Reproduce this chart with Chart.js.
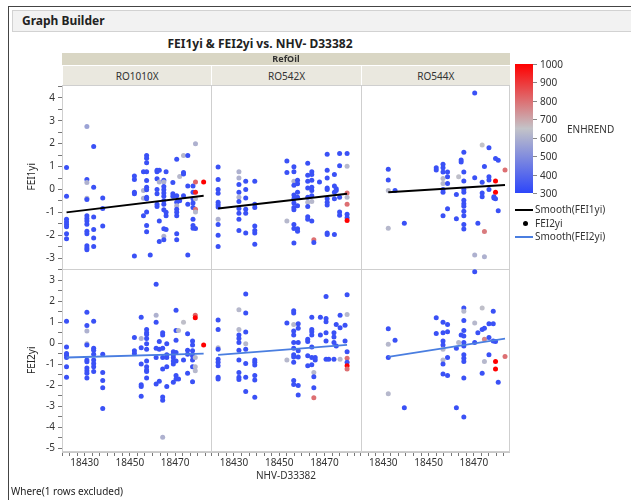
<!DOCTYPE html>
<html>
<head>
<meta charset="utf-8">
<script src="https://cdn.jsdelivr.net/npm/chart.js@4.4.0/dist/chart.umd.min.js"></script>
<style>
  body { margin:0; width:631px; height:500px; overflow:hidden; background:#fff; font-family:"Noto Sans", sans-serif; color:#222; }
  .abs { position:absolute; white-space:nowrap; }
  #frame { left:8px; top:6px; width:640px; height:520px; border-left:1px solid #444; border-top:1px solid #444; }
  #hdr { left:12px; top:10px; width:640px; height:22px; background:#f2f2f2; border:1px solid #d2d2d2; font-weight:bold; font-size:12px; line-height:20px; padding-left:9px; box-sizing:border-box; }
  #title { left:10px; width:500px; top:35px; text-align:center; font-weight:bold; font-size:12px; }
  #where { left:11px; top:484px; font-size:10px; }
  .band { background:#d9d6c4; font-weight:bold; font-size:9px; text-align:center; color:#333; box-sizing:border-box; }
  .strip { background:#eae8df; font-size:10px; text-align:center; color:#333; box-sizing:border-box; border-left:1px solid #fff; border-top:1px solid #fff; }
  .lg { font-size:10px; color:#333; }
</style>
</head>
<body>
<div id="frame" class="abs"></div>
<div id="hdr" class="abs">Graph Builder</div>
<div id="title" class="abs">FEI1yi &amp; FEI2yi vs. NHV- D33382</div>
<canvas id="graf" width="631" height="500" style="position:absolute;left:0;top:0"></canvas>
<div id="where" class="abs">Where(1 rows excluded)</div>
<script>
// DATOS ---------------------------------------------------------------
// each column: [NHV-D33382, [FEIyi values]]; a value may be [y, ENHREND] when not blue
const BLUE = 330;
const refOils = ['RO1010X', 'RO542X', 'RO544X'];

const fei1_RO1010X = [
  [18422, [0.96,-0.3,-1.3,-1.42,-1.53,-1.63,-1.93,-2.15]],
  [18431, [[2.75,560],0.44,[0.3,600],[-0.38,600],-0.44,-1.15,-1.27,-1.38,-1.52,-1.82,-1.93,-2.46,-2.56,-2.63]],
  [18434, [1.88,0.1,-1.2,-1.75,-2.12,-2.49]],
  [18438, [-0.37,-0.83,-1.6]],
  [18452, [0.59,0.43,-0.12,-0.19,-2.9]],
  [18456, [0.77,[-0.04,600],[-0.38,600],-1.15]],
  [18457.4, [1.48,1.36,1.17,0.77,0.39,0.1,-0.01,-0.34,-0.41,-0.98,-1.57,-1.85]],
  [18459, [-2.86]],
  [18462, [0.84,0.77,0.47,0,-0.19,-0.64,-0.74]],
  [18463, [0.84,[0.33,600],-1.38,-2.27]],
  [18465, [0.4,[0.33,600],0.13,-0.01,-0.15,-0.3,-0.49,-0.64,-0.89,-1.72,[-2.04,600],-2.19]],
  [18466, [0.77,-1.0,-1.15,-1.75]],
  [18469, [0.3,-0.19,-0.3]],
  [18470.7, [1.32,-0.27,-0.56,[-0.71,600],-0.86,-1.0,-1.15,-1.93,-2.19]],
  [18472, [[0.57,620],-0.49]],
  [18473.7, [[1.48,620],0.74,0.68,-0.27]],
  [18475.6, [1.48,0.15,-0.64,-2.86]],
  [18477.9, [0.15,-0.12,-0.41,-0.59,-0.79,-1.3,-1.57,-1.69]],
  [18479, [[2.0,600],[0.33,820],[-0.12,950],[-0.41,620],[-0.86,800],[-0.98,620],-1.7]],
  [18482.6, [[0.33,1000]]]
];
const fei1_RO542X = [
  [18423, [0.98,0.44,0,-0.16,-0.56,-0.67,-0.76,[-1.3,600],-1.53,-2.0,-2.49]],
  [18432.2, [[0.77,600],[0.5,600],0.22,-0.12,[-0.34,600],-0.53,-0.83,-1.04,-1.3,-1.79]],
  [18435.2, [0.36,0,-0.37,-0.86,-1.04,-1.9]],
  [18439.2, [0.36,-0.64,-0.79,-1.6,-1.79,-1.9,-2.39]],
  [18453.4, [1.24,0.74,[-1.38,620]]],
  [18456.5, [0.99,0.77,[0.36,600],0.18,-0.24,-0.41,-0.59,-0.79,-0.89,-1.53,-1.7,-2.34]],
  [18458.1, [0.4,0.25,-0.12,-0.34,-0.71,-1.72,-1.82]],
  [18462.6, [1.14,0.62,0.36,0.06,-0.34,[-0.56,620],-0.74,-1.19,-1.3]],
  [18464.4, [0.77,0.65,0.4,0.1,-0.04,-0.27,[-0.53,620],-1.38]],
  [18465.3, [[-2.19,800],-2.31]],
  [18467.8, [0.33]],
  [18471.2, [1.54,0.84,0.5,0.06,0,-0.41,-0.56,-0.68,-1.9,-1.97]],
  [18474.4, [0.65,0.15,-0.12,-0.41,-1.97]],
  [18475.2, [0.03,-0.04]],
  [18476.7, [1.57,1.04,-0.34,-0.98,-1.13]],
  [18480, [1.57,[1.01,620],[-0.15,800],[-0.34,620],[-0.64,800],-1.08,-1.23,[-1.35,1000]]]
];
const fei1_RO544X = [
  [18432.2, [0.88,0.41,[-0.04,620],[-1.69,620]]],
  [18435.2, [-0.04]],
  [18439.3, [-1.47]],
  [18453.4, [0.95,0.85]],
  [18456.4, [1.1,0.95,0.76,[0.48,620],[0.26,620],0,-0.12,-1.15]],
  [18458.4, [0.76,0.56,0.26,-0.84]],
  [18462.3, [-0.22,-1.28]],
  [18463.3, [[0.56,640]]],
  [18464.4, [1.29,1.2]],
  [18465.6, [1.62,0.76,0.37,0,-0.12,-0.47,-0.62,-0.73,-0.95,-1.15,-1.53,-1.73]],
  [18470.4, [4.21,0.51,[-2.86,600]]],
  [18471.8, [-1.47]],
  [18473.7, [[1.94,650],0.32,-0.15,-0.32]],
  [18474.7, [1.0,[-1.84,780],[-2.94,600]]],
  [18476.7, [1.82,0.56,0.41,0]],
  [18478.9, [-0.32,-0.37]],
  [18479.6, [1.35,[0.37,1000],[-0.12,1000],-0.41]],
  [18480.8, [1.28,-0.93]],
  [18483.8, [[0.85,800]]]
];
const fei2_RO1010X = [
  [18422, [1.06,-0.17,-0.48,-0.56,-0.67,-1.11,-1.61]],
  [18431, [1.49,0.86,[0.59,600],[-0.01,600],-0.07,-0.79,-0.87,-1.17,-1.3,-1.42,-1.64]],
  [18434, [1.06,-0.23,-0.32,-0.51,-0.79,-0.95,-1.11,-1.34]],
  [18438, [-0.51,-1.38,-1.77,-2.11,-3.1]],
  [18452, [0.28,-0.35,-0.48]],
  [18455, [1.25,[0.24,600],-0.2,-0.98,-1.97,-2.05,-2.52]],
  [18457.4, [0.67,0.51,0.43,0.24,-0.01,-0.28,-0.83,-1.11,-1.27,-1.34,-1.64]],
  [18461.6, [2.82,[1.34,600],1.01,-0.23,-0.67,-1.93]],
  [18463, [0.09,-0.28,-1.8]],
  [18464.5, [0.51,0.4,-0.23,-0.67,-1.22,-2.55,-2.71,[-4.47,600]]],
  [18466.3, [-0.01,-0.54,-0.67,-1.11,-2.05]],
  [18469.2, [-0.39,-0.54,-0.67,-0.83,-0.98,-1.85]],
  [18470.4, [1.58,0.62,0.15,-0.43,-0.83,-1.53,-1.69]],
  [18471.5, [[0.62,620],-1.69]],
  [18473.7, [[1.01,640],-0.79]],
  [18475.5, [0.46,-0.32,-0.51,-1.42]],
  [18477.7, [0.12,-0.07,-0.35,-0.59,-0.79,-1.11,-1.82]],
  [18478.9, [[1.34,820],[1.22,1000],[-0.67,620],[-1.11,620],[-1.3,620]]],
  [18482.6, [[-0.07,1000]]]
];
const fei2_RO542X = [
  [18423, [1.12,0.67,[-0.2,620],-0.28,-0.75,-0.9,-1.06,-1.61,-1.69]],
  [18432.2, [[1.61,620],[0.67,620],0.4,0.24,0.04,-0.32,-0.79,-1.38,-1.61,-1.72]],
  [18435.2, [2.35,1.45,0.54,[-0.01,620],-0.28,-0.95,-1.61,-2.29]],
  [18439.2, [-0.79,-0.9,-1.03,-1.53,-1.74,-2.56]],
  [18453.4, [0.98,[-0.79,620]]],
  [18456.4, [1.56,1.45,[0.9,620],0.59,0.4,0.04,-0.23,-0.54,-0.64,-0.9,-1.77,-1.96]],
  [18458.4, [0.94,0.72,0.04,-0.35,-0.64,-2.0,-2.45]],
  [18462.6, [0.2,0.09,-0.59,-1.06]],
  [18464.4, [1.25,0.67,0.56,0.4,-0.17,-0.67,-1.01]],
  [18465.3, [[-1.38,620],-1.58,-2.11,[-2.59,800]]],
  [18465.9, [-0.67,-0.79]],
  [18468.2, [1.25,0.4]],
  [18470.7, [2.24,1.19,1.03,0.51,0.12,-0.75]],
  [18471.9, [-0.75]],
  [18474.2, [0.51,0.31,0.04,-0.75]],
  [18475.2, [0.9,-0.12]],
  [18476.9, [1.34,0.75,[-0.75,620]]],
  [18479.1, [0.87,0.12]],
  [18480, [2.32,[1.38,620],-0.39,[-0.7,800],-0.9,[-1.06,1000],[-1.22,800]]]
];
const fei2_RO544X = [
  [18432.2, [0.7,[-0.04,620],-0.67,[-2.4,620]]],
  [18435.2, [0.15]],
  [18439.3, [-3.06]],
  [18453.4, [1.22,0.48]],
  [18456.4, [1.01,0.51,0.12,-0.07,[-0.28,620],[-0.79,620],-0.98,-1.45]],
  [18458.4, [0.9,0.56,-0.67,-1.53]],
  [18462.3, [-0.23,-3.06]],
  [18463.3, [[0.04,620]]],
  [18464.4, [0.4]],
  [18465.6, [1.69,[1.53,620],1.09,0.62,0.35,0.04,-0.12,-0.54,-0.7,-0.86,-1.64,-3.5]],
  [18470.4, [3.42,[0.98,620],0.04]],
  [18471.8, [0.51]],
  [18473.7, [[1.69,640],0.67,-1.42]],
  [18474.7, [0.72,[0.2,760],[-0.86,620]]],
  [18476.7, [0.94,0.28,-0.54]],
  [18478.6, [1.53,0.94,0.12]],
  [18479.6, [0.09,[-0.86,1000],[-1.22,1000]]],
  [18480.8, [-1.85]],
  [18483.8, [[-0.62,800]]]
];

// smooth curves (start / end)
const smoothX  = [[18422, 18482.6], [18423, 18480], [18432.2, 18483.8]];
const smooth1y = [[-1.0, -0.27], [-0.83, -0.19], [-0.12, 0.19]];
const smooth2y = [[-0.67, -0.48], [-0.54, -0.07], [-0.64, 0.23]];

// axes
const xMin = 18420, xMax = 18486, xMinorStep = 10 / 3;
const xTickLabels = [18430, 18450, 18470];
const y1Range = [-3.45, 4.56];
const y2Range = [-5.17, 3.57];
const enhTicks = [1000, 900, 800, 700, 600, 500, 400, 300];
// DATOS END

const F = '"Noto Sans", sans-serif';
const cLow = [45, 70, 250], cMid = [195, 195, 200], cHigh = [255, 0, 0];

function enhColor(v) {
  let a, b, t;
  if (v <= 650) { a = cLow; b = cMid; t = (v - 300) / 350; }
  else { a = cMid; b = cHigh; t = (v - 650) / 350; }
  t = Math.max(0, Math.min(1, t));
  const c = a.map((k, i) => Math.round(k + (b[i] - k) * t));
  return 'rgb(' + c.join(',') + ')';
}

function puntos(cols) {
  const out = [];
  cols.forEach(col => {
    col[1].forEach(v => {
      if (Array.isArray(v)) out.push({ x: col[0], y: v[0], c: v[1] });
      else out.push({ x: col[0], y: v, c: BLUE });
    });
  });
  return out;
}

const fei1 = [fei1_RO1010X, fei1_RO542X, fei1_RO544X];
const fei2 = [fei2_RO1010X, fei2_RO542X, fei2_RO544X];
const datasets = [];
[fei1, fei2].forEach((grupo, r) => {
  grupo.forEach((cols, i) => {
    const p = puntos(cols);
    datasets.push({
      type: 'scatter',
      data: p.map(q => ({ x: q.x, y: q.y })),
      xAxisID: 'x' + i, yAxisID: 'y' + (r + 1),
      pointBackgroundColor: p.map(q => enhColor(q.c)),
      pointBorderWidth: 0, pointRadius: 2.5, order: 2
    });
  });
});
[smooth1y, smooth2y].forEach((sy, r) => {
  sy.forEach((ys, i) => {
    datasets.push({
      type: 'scatter', showLine: true,
      data: smoothX[i].map((x, k) => ({ x: x, y: ys[k] })),
      xAxisID: 'x' + i, yAxisID: 'y' + (r + 1),
      borderColor: r === 0 ? '#000' : '#4a7ee0',
      borderWidth: r === 0 ? 2 : 1.8,
      pointRadius: 0, order: 0
    });
  });
});

function xScale(i) {
  return {
    type: 'linear', position: 'bottom', stack: 'cols', stackWeight: 1,
    min: xMin, max: xMax,
    afterBuildTicks: s => {
      const t = [];
      for (let k = 0; xMin + k * xMinorStep <= xMax; k++) t.push({ value: xMin + k * xMinorStep });
      s.ticks = t;
    },
    afterFit: s => { s.height = 32; },
    ticks: {
      autoSkip: false, maxRotation: 0, padding: 1, color: '#333', font: { family: F, size: 10 },
      callback: v => {
        const n = Math.round(v);
        return (Math.abs(v - n) < 0.01 && xTickLabels.includes(n)) ? String(n) : '';
      }
    },
    grid: { drawOnChartArea: false, tickLength: 4, color: '#777' },
    border: { color: '#c8c8c8' },
    title: { display: i === 1, text: 'NHV-D33382', color: '#333', font: { family: F, size: 10 }, padding: { top: 0, bottom: 2 } }
  };
}
function yScale(range, titulo) {
  return {
    type: 'linear', position: 'left', stack: 'rows', stackWeight: 1,
    min: range[0], max: range[1],
    afterBuildTicks: s => {
      const t = [];
      for (let v = Math.ceil(range[0] * 2) / 2; v <= range[1] + 1e-9; v += 0.5) t.push({ value: v });
      s.ticks = t;
    },
    afterFit: s => { s.width = 36; },
    ticks: {
      autoSkip: false, padding: 3, color: '#333', font: { family: F, size: 10 },
      callback: v => Math.abs(v - Math.round(v)) < 1e-6 ? String(Math.round(v)) : ''
    },
    grid: { drawOnChartArea: false, tickLength: 4, color: '#777' },
    border: { color: '#c8c8c8' },
    title: { display: true, text: titulo, color: '#222', font: { family: F, size: 10 }, padding: { top: 0, bottom: 2 } }
  };
}

// panel frame and separators
const marcos = {
  id: 'marcos',
  beforeDatasetsDraw(chart) {
    const ctx = chart.ctx, a = chart.chartArea;
    ctx.save();
    ctx.strokeStyle = '#cfcfcf';
    ctx.lineWidth = 1;
    ctx.strokeRect(Math.round(a.left) + 0.5, Math.round(a.top) + 0.5, Math.round(a.width) - 1, Math.round(a.height) - 1);
    ctx.beginPath();
    ['x1', 'x2'].forEach(id => {
      const x = Math.round(chart.scales[id].left) + 0.5;
      ctx.moveTo(x, a.top); ctx.lineTo(x, a.bottom);
    });
    ['y1', 'y2'].forEach(id => {
      const y = Math.round(chart.scales[id].top) + 0.5;
      ctx.moveTo(a.left, y); ctx.lineTo(a.right, y);
    });
    ctx.stroke();
    ctx.restore();
  }
};

// y2 declared first: the stack places it below y1
const scales = { x0: xScale(0), x1: xScale(1), x2: xScale(2), y2: yScale(y2Range, 'FEI2yi'), y1: yScale(y1Range, 'FEI1yi') };

const chart = new Chart(document.getElementById('graf'), {
  type: 'scatter',
  data: { datasets: datasets },
  options: {
    responsive: false, animation: false,
    layout: { padding: { left: 26, right: 121, top: 85, bottom: 16 } },
    plugins: { legend: { display: false }, tooltip: { enabled: false } },
    scales: scales
  },
  plugins: [marcos]
});

// strip headers (RefOil) -------------------------------------------
function caja(cls, l, t, w, h, txt) {
  const d = document.createElement('div');
  d.className = 'abs ' + cls;
  d.style.left = l + 'px'; d.style.top = t + 'px';
  d.style.width = w + 'px'; d.style.height = h + 'px';
  d.style.lineHeight = h + 'px';
  if (txt) d.textContent = txt;
  document.body.appendChild(d);
  return d;
}
const ca = chart.chartArea;
caja('band', ca.left, ca.top - 32, ca.right - ca.left, 12, 'RefOil');
refOils.forEach((r, i) => {
  const s = chart.scales['x' + i];
  caja('strip', s.left, ca.top - 20, s.right - s.left, 20, r);
});

// ENHREND gradient legend -------------------------------------------
const barTop = 64, barH = 129, barLeft = 515;
const bar = caja('', barLeft, barTop, 18, barH, '');
bar.style.background = 'linear-gradient(to top, rgb(' + cLow + ') 0%, rgb(' + cMid + ') 50%, rgb(' + cHigh + ') 100%)';
enhTicks.forEach(v => {
  const y = barTop + (1000 - v) / 700 * barH;
  const tk = caja('', barLeft + 18, y, 4, 1, '');
  tk.style.background = '#888';
  caja('lg', barLeft + 25, y - 7, 30, 14, String(v));
});
caja('lg', barLeft + 52, 122, 60, 14, 'ENHREND');

// series legend
const l1 = caja('', barLeft, 209, 18, 2, ''); l1.style.background = '#000';
caja('lg', barLeft + 20, 202, 90, 14, 'Smooth(FEI1yi)');
const dot = caja('', barLeft + 8, 221, 5, 5, ''); dot.style.background = '#000'; dot.style.borderRadius = '50%';
caja('lg', barLeft + 20, 216, 90, 14, 'FEI2yi');
const l2 = caja('', barLeft, 236, 18, 2, ''); l2.style.background = '#4a7ee0';
caja('lg', barLeft + 20, 229, 90, 14, 'Smooth(FEI2yi)');
</script>
</body>
</html>
